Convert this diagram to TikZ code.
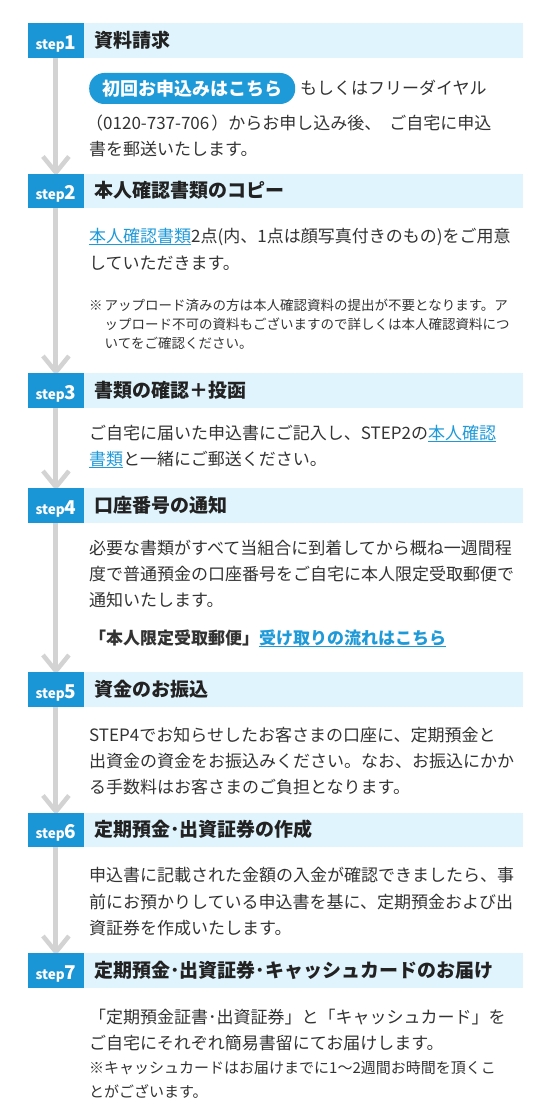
\documentclass[tikz,border=0pt]{standalone}
\usepackage{fontspec}
\setmainfont{Noto Sans CJK JP}
\usetikzlibrary{calc}
\definecolor{stepblue}{HTML}{1A95D5}
\definecolor{bandblue}{HTML}{E0F4FD}
\definecolor{linkblue}{HTML}{1F9AD9}
\definecolor{flowgray}{HTML}{D3D3D3}
\definecolor{bodytxt}{HTML}{333333}
\definecolor{headtxt}{HTML}{222222}
\newcommand\setfs[1]{\fontsize{#1}{#1}\selectfont}
\newsavebox\lnkbox
\newcommand\lnk[1]{\sbox\lnkbox{#1}{\color{linkblue}\rlap{\rule[-2.8pt]{\wd\lnkbox}{1.1pt}}#1}}
\tikzset{
  stepbox/.style={fill=stepblue, draw=none, minimum width=56.5pt, minimum height=34.5pt, inner sep=0pt, anchor=north west},
  bandbox/.style={fill=bandblue, draw=none, minimum width=439pt, minimum height=34.5pt, inner sep=0pt, anchor=north west},
  steplab/.style={anchor=base, inner sep=0pt, text=white, font=\bfseries\setfs{13.5}},
  head/.style={anchor=base west, inner sep=0pt, text=headtxt, font=\bfseries\setfs{19}},
  body/.style={anchor=base west, inner sep=0pt, text=bodytxt, font=\setfs{17}},
  note/.style={anchor=base west, inner sep=0pt, text=bodytxt, font=\setfs{13.5}},
  note7/.style={anchor=base west, inner sep=0pt, text=bodytxt, font=\setfs{15}},
  pill/.style={fill=linkblue, text=white, font=\bfseries\setfs{18}, rounded corners=15pt, minimum height=31pt, inner xsep=13pt, inner ysep=0pt},
  flow/.style={draw=flowgray, line width=5pt},
  chev/.style={draw=flowgray, line width=4.5pt, line join=miter}
}
\begin{document}
\begin{tikzpicture}[x=1pt,y=-1pt]
\useasboundingbox (0,0) rectangle (557,1105);
\fill[white] (0,0) rectangle (557,1105);

% header boxes (placed first as coordinates for connectors)
\node[stepbox] (s1) at (27.5,23) {};
\node[stepbox] (s2) at (27.5,173.5) {};
\node[stepbox] (s3) at (27.5,373) {};
\node[stepbox] (s4) at (27.5,488) {};
\node[stepbox] (s5) at (27.5,672) {};
\node[stepbox] (s6) at (27.5,812.5) {};
\node[stepbox] (s7) at (27.5,953) {};

% flow connectors
\foreach \a/\b in {s1/s2,s2/s3,s3/s4,s4/s5,s5/s6,s6/s7}{
  \draw[flow] (\a.south) -- ([yshift=1pt]\b.north);
  \draw[chev] ([xshift=-13pt,yshift=17pt]\b.north) -- ([yshift=1pt]\b.north) -- ([xshift=13pt,yshift=17pt]\b.north);
}

% redraw step boxes above the connectors
\foreach \s/\t in {s1/23,s2/173.5,s3/373,s4/488,s5/672,s6/812.5,s7/953}{
  \fill[stepblue] (27.5,\t) rectangle ++(56.5,34.5);
}

% bands
\node[bandbox] (b1) at (84,23) {};
\node[bandbox] (b2) at (84,173.5) {};
\node[bandbox] (b3) at (84,373) {};
\node[bandbox] (b4) at (84,488) {};
\node[bandbox] (b5) at (84,672) {};
\node[bandbox] (b6) at (84,812.5) {};
\node[bandbox] (b7) at (84,953) {};

% step labels
\node[steplab] (l1) at ([yshift=8.5pt]s1.south) {step{\setfs{19}1}};
\node[steplab] (l2) at ([yshift=8.5pt]s2.south) {step{\setfs{19}2}};
\node[steplab] (l3) at ([yshift=8.5pt]s3.south) {step{\setfs{19}3}};
\node[steplab] (l4) at ([yshift=8.5pt]s4.south) {step{\setfs{19}4}};
\node[steplab] (l5) at ([yshift=8.5pt]s5.south) {step{\setfs{19}5}};
\node[steplab] (l6) at ([yshift=8.5pt]s6.south) {step{\setfs{19}6}};
\node[steplab] (l7) at ([yshift=8.5pt]s7.south) {step{\setfs{19}7}};

% header titles
\node[head] (h1) at ([xshift=10pt,yshift=-7pt]b1.west) {資料請求};
\node[head] (h2) at ([xshift=10pt,yshift=-7pt]b2.west) {本人確認書類のコピー};
\node[head] (h3) at ([xshift=10pt,yshift=-7pt]b3.west) {書類の確認＋投函};
\node[head] (h4) at ([xshift=10pt,yshift=-7pt]b4.west) {口座番号の通知};
\node[head] (h5) at ([xshift=10pt,yshift=-7pt]b5.west) {資金のお振込};
\node[head] (h6) at ([xshift=10pt,yshift=-7pt]b6.west) {定期預金･出資証券の作成};
\node[head] (h7) at ([xshift=10pt,yshift=-7pt]b7.west) {定期預金･出資証券･キャッシュカードのお届け};

% step 1
\node[pill, anchor=west] (pill) at (89,88.5) {初回お申込みはこちら};
\node[body] (p1a) at (300,94.4) {もしくはフリーダイヤル};
\node[body] (p1b) at (86,129.4) {（0120-737-706\hspace{2pt}）からお申し込み後、\hspace{8pt}ご自宅に申込};
\node[body] (p1c) at (89,155.4) {書を郵送いたします。};

% step 2
\node[body] (p2a) at (89,242.4) {\lnk{本人確認書類}2点(内、1点は顔写真付きのもの)をご用意};
\node[body] (p2b) at (89,269.4) {していただきます。};
\node[note] (n2m) at (89,310.1) {※};
\node[note] (n2a) at (104.5,310.1) {アップロード済みの方は本人確認資料の提出が不要となります。ア};
\node[note] (n2b) at (104.5,329.1) {ップロード不可の資料もございますので詳しくは本人確認資料につ};
\node[note] (n2c) at (104.5,348.1) {いてをご確認ください。};

% step 3
\node[body] (p3a) at (89,439.4) {ご自宅に届いた申込書にご記入し、STEP2の\lnk{本人確認}};
\node[body] (p3b) at (89,465.4) {\lnk{書類}と一緒にご郵送ください。};

% step 4
\node[body] (p4a) at (89,554.4) {必要な書類がすべて当組合に到着してから概ね一週間程};
\node[body] (p4b) at (89,580.4) {度で普通預金の口座番号をご自宅に本人限定受取郵便で};
\node[body] (p4c) at (89,606.4) {通知いたします。};
\node[body, font=\bfseries\setfs{17}] (p4d) at (89,644.4) {「本人限定受取郵便」\lnk{受け取りの流れはこちら}};

% step 5
\node[body] (p5a) at (89,741.4) {STEP4でお知らせしたお客さまの口座に、定期預金と};
\node[body] (p5b) at (89,767.4) {出資金の資金をお振込みください。なお、お振込にかか};
\node[body] (p5c) at (89,793.4) {る手数料はお客さまのご負担となります。};

% step 6
\node[body] (p6a) at (89,881.4) {申込書に記載された金額の入金が確認できましたら、事};
\node[body] (p6b) at (89,908.4) {前にお預かりしている申込書を基に、定期預金および出};
\node[body] (p6c) at (89,934.4) {資証券を作成いたします。};

% step 7
\node[body] (p7a) at (89,1023.4) {「定期預金証書･出資証券」と「キャッシュカード」を};
\node[body] (p7b) at (89,1049.4) {ご自宅にそれぞれ簡易書留にてお届けします。};
\node[note7] (n7a) at (89,1073.7) {※キャッシュカードはお届けまでに1〜2週間お時間を頂くこ};
\node[note7] (n7b) at (89,1097.7) {とがございます。};
\end{tikzpicture}
\end{document}
